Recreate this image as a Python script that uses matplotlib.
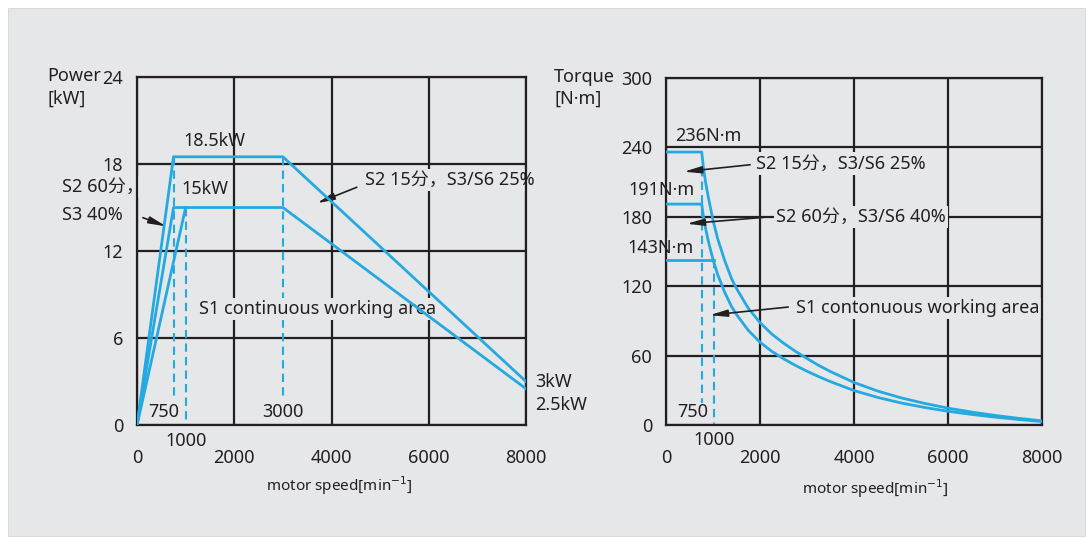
import matplotlib
matplotlib.use("Agg")
import matplotlib.pyplot as plt
from matplotlib.patches import Rectangle

plt.rcParams['font.family'] = ['Noto Sans', 'Noto Sans CJK SC']

# ---- data: power chart ----
power_speed_s2_15 = [0, 750, 3000, 8000]
power_s2_15 = [0, 18.5, 18.5, 3.0]
power_speed_s2_60 = [0, 750, 3000, 8000]
power_s2_60 = [0, 15, 15, 2.5]
power_speed_s1 = [0, 1000]
power_s1 = [0, 15]

# ---- data: torque chart ----
torque_speed = [0, 760, 800, 850, 900, 1000, 1100, 1250, 1400, 1500, 1750, 2000,
                2250, 2500, 2750, 3000, 3250, 3500, 4000, 4500, 5000, 5500, 6000,
                6500, 7000, 7500, 8000]
torque_s2_15 = [236, 236, 221, 208, 197, 177, 161, 142, 126, 118, 101, 88.5,
                78.7, 70.8, 63.8, 57.5, 51.5, 46.2, 36.8, 29.4, 23.5, 18.7, 14.6,
                11.2, 8.3, 5.8, 3.6]
torque_s2_60 = [191, 191, 179, 168.5, 159, 143, 130, 114.6, 102, 95.5, 81.9, 71.6,
                63.7, 57.3, 51.6, 46.5, 41.8, 37.5, 29.8, 23.9, 19.1, 15.2, 11.9,
                9.2, 6.8, 4.8, 3.0]
torque_speed_s1 = [0, 1030]
torque_s1 = [143, 143]

x_ticks = [0, 2000, 4000, 6000, 8000]
power_ticks = [0, 6, 12, 18, 24]
torque_ticks = [0, 60, 120, 180, 240, 300]

BG = "#e6e7e9"
BLUE = "#25a9e1"
INK = "#231f20"
FS = 13

fig = plt.figure(figsize=(10.92, 5.38), dpi=100)
fig.patch.set_facecolor("white")
fig.patches.append(Rectangle((0.0073, 0.004), 0.9863, 0.981, transform=fig.transFigure,
                             facecolor=BG, edgecolor="#d0d0d0", lw=0.5, zorder=-10))

lbox = dict(facecolor=BG, edgecolor="none", pad=1.5)
arrow = dict(arrowstyle="-|>,head_length=0.8,head_width=0.16", color=INK, lw=1.2,
             mutation_scale=13, shrinkA=0, shrinkB=0)


def setup(ax, ymax, yticks, label_xy):
    ax.set_facecolor("none")
    ax.set_xlim(0, 8000)
    ax.set_ylim(0, ymax)
    ax.set_xticks(x_ticks)
    ax.set_yticks(yticks)
    ax.tick_params(length=0, labelsize=FS, colors=INK, pad=10)
    ax.tick_params(axis="x", pad=17)
    ax.grid(True, color=INK, lw=1.6, zorder=1)
    for s in ax.spines.values():
        s.set_color(INK)
        s.set_linewidth(1.6)
        s.set_zorder(4.5)
    ax.set_xlabel("motor speed[min$^{-1}$]", fontsize=11, color=INK)
    ax.xaxis.set_label_coords(*label_xy)


dash = (0, (4, 2.5))

# ---- power chart ----
ax1 = fig.add_axes([0.1255, 0.210, 0.3562, 0.6468])
setup(ax1, 24, power_ticks, (0.519, -0.142))
ax1.plot(power_speed_s2_15, power_s2_15, color=BLUE, lw=2, zorder=5)
ax1.plot(power_speed_s2_60, power_s2_60, color=BLUE, lw=2, zorder=5)
ax1.plot(power_speed_s1, power_s1, color=BLUE, lw=2, zorder=5)
ax1.plot([750, 750], [18.5, 1.9], color=BLUE, lw=1.5, ls=dash, zorder=2)
ax1.plot([1000, 1000], [15, 0], color=BLUE, lw=1.5, ls=dash, zorder=2)
ax1.plot([3000, 3000], [18.5, 1.9], color=BLUE, lw=1.5, ls=dash, zorder=2)

ax1.text(-1850, 24.1, "Power", fontsize=FS, color=INK, va="center")
ax1.text(-1850, 22.5, "[kW]", fontsize=FS, color=INK, va="center")
ax1.text(1600, 19.6, "18.5kW", fontsize=FS, color=INK, ha="center", va="center", zorder=4)
ax1.text(1400, 16.3, "15kW", fontsize=FS, color=INK, ha="center", va="center", zorder=4)
ax1.text(-1550, 16.4, "S2 60分，", fontsize=FS, color=INK, va="center", bbox=lbox, zorder=4)
ax1.text(-1550, 14.5, "S3 40%", fontsize=FS, color=INK, va="center", bbox=lbox, zorder=4)
ax1.annotate("", xy=(600, 13.7), xytext=(120, 14.3), arrowprops=arrow, zorder=4)
ax1.text(4690, 16.9, "S2 15分，S3/S6 25%", fontsize=FS, color=INK, va="center", bbox=lbox, zorder=4)
ax1.annotate("", xy=(3700, 15.3), xytext=(4520, 16.4), arrowprops=arrow, zorder=4)
ax1.text(1270, 8.0, "S1 continuous working area", fontsize=FS, color=INK, va="center",
         bbox=lbox, zorder=4)
ax1.text(8180, 3.0, "3kW", fontsize=FS, color=INK, va="center")
ax1.text(8180, 1.4, "2.5kW", fontsize=FS, color=INK, va="center")
ax1.text(540, 0.9, "750", fontsize=FS, color=INK, ha="center", va="center")
ax1.text(3000, 0.9, "3000", fontsize=FS, color=INK, ha="center", va="center")
ax1.text(1000, -1.1, "1000", fontsize=FS, color=INK, ha="center", va="center")

# ---- torque chart ----
ax2 = fig.add_axes([0.6099, 0.210, 0.3443, 0.645])
setup(ax2, 300, torque_ticks, (0.556, -0.152))
ax2.plot(torque_speed, torque_s2_15, color=BLUE, lw=2, zorder=5)
ax2.plot(torque_speed, torque_s2_60, color=BLUE, lw=2, zorder=5)
ax2.plot(torque_speed_s1, torque_s1, color=BLUE, lw=2, zorder=5)
ax2.plot([760, 760], [222, 19], color=BLUE, lw=1.5, ls=dash, zorder=2)
ax2.plot([1030, 1030], [143, 0], color=BLUE, lw=1.5, ls=dash, zorder=2)

ax2.text(-2380, 301, "Torque", fontsize=FS, color=INK, va="center")
ax2.text(-2380, 282, "[N·m]", fontsize=FS, color=INK, va="center")
ax2.text(900, 250, "236N·m", fontsize=FS, color=INK, ha="center", va="center", zorder=4)
ax2.text(-790, 203, "191N·m", fontsize=FS, color=INK, va="center", bbox=lbox, zorder=4)
ax2.text(-830, 153, "143N·m", fontsize=FS, color=INK, va="center", bbox=lbox, zorder=4)
ax2.text(1920, 226, "S2 15分，S3/S6 25%", fontsize=FS, color=INK, va="center", bbox=lbox, zorder=4)
ax2.annotate("", xy=(380, 219), xytext=(1790, 225), arrowprops=arrow, zorder=6)
ax2.text(2340, 180, "S2 60分，S3/S6 40%", fontsize=FS, color=INK, va="center", bbox=lbox, zorder=4)
ax2.annotate("", xy=(440, 174), xytext=(2220, 180), arrowprops=arrow, zorder=6)
ax2.text(2770, 101, "S1 contonuous working area", fontsize=FS, color=INK, va="center",
         bbox=lbox, zorder=4)
ax2.annotate("", xy=(930, 95), xytext=(2600, 102), arrowprops=arrow, zorder=6)
ax2.text(560, 11, "750", fontsize=FS, color=INK, ha="center", va="center")
ax2.text(1030, -13, "1000", fontsize=FS, color=INK, ha="center", va="center")

fig.savefig("out.png", dpi=100, facecolor="white")
